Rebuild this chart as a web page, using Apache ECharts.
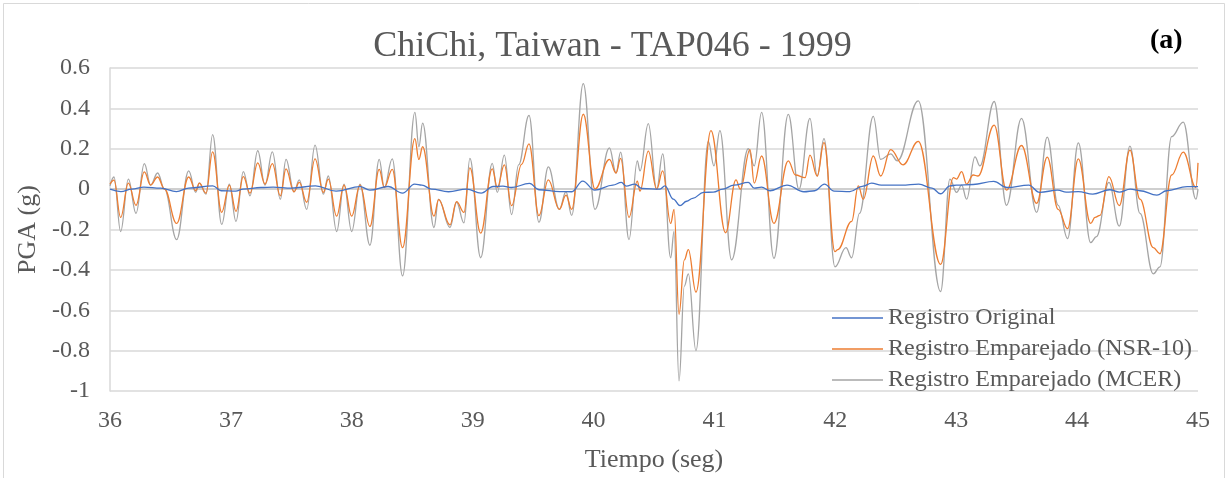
<!DOCTYPE html>
<html>
<head>
<meta charset="utf-8">
<script src="https://cdn.jsdelivr.net/npm/echarts@6/dist/echarts.min.js"></script>
<style>
    html, body {margin: 0; padding: 0; background: #fff;}
    #chart {width: 1225px; height: 478px;}
</style>
</head>
<body>
<div id="chart"></div>
<script>
// tiempo (seg) y PGA (g), un arreglo por serie
const tGray = [36.000, 36.033, 36.088, 36.152, 36.215, 36.284, 36.336, 36.394, 36.451, 36.551,
    36.651, 36.709, 36.739, 36.794, 36.849, 36.924, 36.987, 37.042, 37.103, 37.158,
    37.222, 37.282, 37.343, 37.409, 37.456, 37.522, 37.566, 37.627, 37.696, 37.765,
    37.806, 37.875, 37.936, 37.999, 38.068, 38.150, 38.227, 38.269, 38.335, 38.420,
    38.522, 38.555, 38.586, 38.680, 38.718, 38.812, 38.867, 38.928, 38.977, 39.066,
    39.162, 39.204, 39.262, 39.322, 39.380, 39.466, 39.548, 39.626, 39.717, 39.772,
    39.819, 39.915, 40.012, 40.131, 40.186, 40.224, 40.293, 40.362, 40.384, 40.453,
    40.522, 40.572, 40.638, 40.666, 40.707, 40.751, 40.784, 40.847, 40.949, 40.996,
    41.045, 41.142, 41.280, 41.329, 41.390, 41.492, 41.611, 41.699, 41.790, 41.850,
    41.906, 41.997, 42.088, 42.135, 42.200, 42.314, 42.375, 42.458, 42.513, 42.686,
    42.871, 42.948, 43.003, 43.045, 43.086, 43.155, 43.196, 43.314, 43.416, 43.540,
    43.665, 43.753, 43.843, 43.921, 44.010, 44.112, 44.160, 44.263, 44.349, 44.437,
    44.520, 44.630, 44.685, 44.782, 44.878, 44.983, 45.000];
const mcer = [0.016, 0.06, -0.21, 0.05, -0.12, 0.126, 0.02, 0.08, 0.0, -0.25,
    0.09, -0.016, 0.03, -0.025, 0.27, -0.175, 0.025, -0.16, 0.087, -0.033,
    0.19, 0.02, 0.185, -0.05, 0.147, -0.013, 0.046, -0.10, 0.218, -0.025,
    0.065, -0.21, 0.025, -0.21, 0.025, -0.278, 0.147, 0.008, 0.15, -0.43,
    0.38, 0.21, 0.327, -0.19, -0.05, -0.19, -0.065, -0.167, 0.152, -0.34,
    0.128, -0.016, 0.168, -0.126, 0.12, 0.365, -0.164, 0.11, -0.10, -0.013,
    -0.13, 0.523, -0.10, 0.204, 0.08, 0.183, -0.25, 0.14, 0.09, 0.324,
    0.0, 0.175, -0.34, -0.21, -0.95, -0.48, -0.42, -0.80, 0.237, 0.115,
    0.29, -0.35, 0.20, 0.115, 0.38, -0.343, 0.37, 0.0, 0.35, 0.065,
    0.25, -0.385, -0.29, -0.34, -0.12, 0.36, 0.147, 0.175, 0.14, 0.437,
    -0.507, 0.05, -0.016, 0.02, -0.05, 0.16, 0.115, 0.434, -0.08, 0.35,
    -0.115, 0.258, -0.08, -0.245, 0.229, -0.265, -0.235, 0.033, -0.183, 0.213,
    -0.12, -0.42, -0.385, 0.26, 0.332, -0.05, 0.0];

const tOrange = [36.000, 36.033, 36.088, 36.152, 36.215, 36.284, 36.336, 36.394, 36.451, 36.551,
    36.651, 36.709, 36.739, 36.794, 36.849, 36.924, 36.987, 37.042, 37.103, 37.158,
    37.222, 37.282, 37.343, 37.409, 37.456, 37.522, 37.566, 37.627, 37.696, 37.765,
    37.806, 37.875, 37.936, 37.999, 38.068, 38.150, 38.227, 38.269, 38.335, 38.420,
    38.522, 38.555, 38.586, 38.680, 38.718, 38.812, 38.867, 38.928, 38.977, 39.066,
    39.162, 39.204, 39.262, 39.322, 39.405, 39.466, 39.548, 39.626, 39.717, 39.772,
    39.819, 39.915, 40.012, 40.131, 40.186, 40.224, 40.293, 40.362, 40.384, 40.453,
    40.522, 40.572, 40.638, 40.666, 40.707, 40.751, 40.784, 40.847, 40.971, 41.092,
    41.178, 41.214, 41.294, 41.329, 41.390, 41.492, 41.611, 41.670, 41.750, 41.790,
    41.850, 41.906, 41.997, 42.020, 42.135, 42.190, 42.231, 42.314, 42.375, 42.458,
    42.560, 42.686, 42.871, 42.976, 43.003, 43.045, 43.086, 43.140, 43.180, 43.314,
    43.416, 43.540, 43.665, 43.753, 43.843, 43.921, 44.010, 44.112, 44.148, 44.189,
    44.263, 44.349, 44.437, 44.520, 44.630, 44.685, 44.782, 44.878, 44.983, 45.000];
const nsr10 = [0.025, 0.045, -0.14, 0.03, -0.08, 0.085, 0.02, 0.06, 0.0, -0.17,
    0.06, -0.008, 0.03, -0.02, 0.185, -0.115, 0.02, -0.11, 0.062, -0.02,
    0.13, 0.025, 0.126, -0.033, 0.10, -0.013, 0.033, -0.065, 0.15, -0.016,
    0.05, -0.134, 0.02, -0.134, 0.02, -0.185, 0.098, 0.008, 0.098, -0.29,
    0.25, 0.147, 0.21, -0.134, -0.052, -0.177, -0.062, -0.115, 0.105, -0.218,
    0.10, 0.008, 0.12, -0.082, 0.123, 0.224, -0.131, 0.046, -0.10, -0.03,
    -0.10, 0.371, 0.0, 0.147, 0.08, 0.152, -0.14, 0.04, -0.01, 0.188,
    0.0, 0.09, -0.17, -0.10, -0.62, -0.35, -0.30, -0.51, 0.29, -0.216,
    0.046, 0.0, 0.196, 0.03, 0.164, -0.17, 0.14, 0.07, 0.057, 0.168,
    0.065, 0.23, -0.31, -0.30, -0.16, 0.016, -0.05, 0.164, 0.065, 0.196,
    0.12, 0.237, -0.373, 0.057, 0.05, 0.087, 0.025, 0.07, 0.065, 0.317,
    -0.005, 0.216, -0.07, 0.159, -0.10, -0.196, 0.15, -0.17, -0.14, -0.13,
    0.062, -0.082, 0.193, -0.05, -0.29, -0.32, 0.07, 0.183, 0.008, 0.13];

const tBlue = [36.00, 36.09, 36.18, 36.28, 36.42, 36.55, 36.65, 36.85, 36.92, 37.04,
    37.10, 37.25, 37.35, 37.50, 37.70, 37.87, 38.07, 38.15, 38.30, 38.42,
    38.52, 38.58, 38.66, 38.80, 38.95, 39.07, 39.17, 39.25, 39.32, 39.47,
    39.55, 39.72, 39.82, 39.91, 40.01, 40.16, 40.23, 40.27, 40.34, 40.40,
    40.55, 40.59, 40.66, 40.715, 40.77, 40.82, 40.91, 40.99, 41.07, 41.16,
    41.28, 41.33, 41.39, 41.46, 41.60, 41.74, 41.83, 41.91, 41.99, 42.12,
    42.23, 42.30, 42.38, 42.55, 42.69, 42.80, 42.87, 42.95, 43.00, 43.14,
    43.31, 43.42, 43.60, 43.69, 43.84, 43.91, 44.01, 44.13, 44.27, 44.35,
    44.44, 44.52, 44.66, 44.74, 44.91, 45.00];
const original = [0.0, -0.012, 0.0, 0.01, 0.005, -0.012, 0.005, 0.016, -0.008, -0.01,
    0.0, 0.008, 0.01, 0.005, 0.016, -0.01, 0.012, -0.005, 0.013, -0.02,
    0.025, 0.02, 0.0, -0.013, 0.0, -0.02, 0.013, 0.015, 0.008, 0.028,
    -0.003, -0.012, -0.013, 0.04, -0.005, 0.02, 0.033, 0.015, 0.025, 0.003,
    0.0, 0.016, -0.05, -0.082, -0.06, -0.046, -0.016, -0.015, 0.0, 0.02,
    0.033, 0.005, 0.01, -0.008, 0.02, -0.013, -0.008, 0.025, -0.01, -0.012,
    0.015, 0.03, 0.02, 0.02, 0.025, 0.005, -0.023, 0.016, 0.02, 0.023,
    0.038, 0.008, 0.02, -0.016, -0.005, -0.015, -0.012, -0.025, -0.003, -0.015,
    0.0, -0.008, -0.03, -0.008, 0.012, 0.012];

const seriesNames = ['Registro Original', 'Registro Emparejado (NSR-10)', 'Registro Emparejado (MCER)'];
const seriesColors = ['#4472C4', '#ED7D31', '#A5A5A5'];

const pairs = (xs, ys) => xs.map((x, i) => [x, ys[i]]);

const font = 'Liberation Serif, Times New Roman, serif';
const textColor = '#595959';

const myChart = echarts.init(document.getElementById('chart'));

// la linea del cero va un poco mas oscura, como el eje horizontal de Excel
const gridColors = ['#d9d9d9', '#d9d9d9', '#d9d9d9', '#d9d9d9', '#d9d9d9', '#bfbfbf', '#d9d9d9', '#d9d9d9', '#d9d9d9'];

const option = {
    animation: false,
    backgroundColor: '#fff',
    title: {
        text: 'ChiChi, Taiwan - TAP046 - 1999',
        left: 'center',
        top: 24,
        textStyle: {fontFamily: font, fontSize: 36, fontWeight: 'normal', color: textColor}
    },
    graphic: [
        {
            type: 'rect', left: 1, top: 1, silent: true,
            shape: {width: 1221, height: 490},
            style: {fill: 'none', stroke: '#d9d9d9', lineWidth: 1}
        },
        {
            type: 'text', left: 1150, top: 27,
            style: {text: '(a)', font: 'bold 28px ' + font, fill: '#000'}
        }
    ],
    legend: {
        orient: 'vertical',
        left: 832,
        top: 306,
        padding: 0,
        icon: 'rect',
        itemWidth: 51,
        itemHeight: 1.5,
        itemGap: 7,
        data: seriesNames.map((name, i) => ({name: name, itemStyle: {color: seriesColors[i]}})),
        textStyle: {fontFamily: font, fontSize: 24, color: textColor, lineHeight: 24}
    },
    grid: {left: 110, right: 27, top: 68, bottom: 85},
    xAxis: {
        type: 'value',
        min: 36,
        max: 45,
        interval: 1,
        name: 'Tiempo (seg)',
        nameLocation: 'middle',
        nameGap: 56,
        nameTextStyle: {fontFamily: font, fontSize: 26, color: textColor},
        axisLine: {show: false},
        axisTick: {show: false},
        splitLine: {show: false},
        axisLabel: {fontFamily: font, fontSize: 24, color: textColor, margin: 18}
    },
    yAxis: {
        type: 'value',
        min: -1,
        max: 0.6,
        interval: 0.2,
        name: 'PGA (g)',
        nameLocation: 'middle',
        nameGap: 65,
        nameTextStyle: {fontFamily: font, fontSize: 26, color: textColor},
        axisLine: {show: true, lineStyle: {color: '#d9d9d9', width: 1.5}},
        axisTick: {show: false},
        splitLine: {lineStyle: {color: gridColors, width: 1.5}},
        axisLabel: {
            fontFamily: font, fontSize: 24, color: textColor, margin: 20,
            formatter: v => String(Math.round(v * 10) / 10)
        }
    },
    series: [
        {
            name: seriesNames[2], type: 'line', symbol: 'none',
            smooth: 0.4, smoothMonotone: 'x',
            data: pairs(tGray, mcer),
            lineStyle: {color: seriesColors[2], width: 1.3},
            itemStyle: {color: seriesColors[2]}
        },
        {
            name: seriesNames[1], type: 'line', symbol: 'none',
            smooth: 0.4, smoothMonotone: 'x',
            data: pairs(tOrange, nsr10),
            lineStyle: {color: seriesColors[1], width: 1.3},
            itemStyle: {color: seriesColors[1]}
        },
        {
            name: seriesNames[0], type: 'line', symbol: 'none',
            smooth: 0.4, smoothMonotone: 'x',
            data: pairs(tBlue, original),
            lineStyle: {color: seriesColors[0], width: 1.3},
            itemStyle: {color: seriesColors[0]}
        }
    ]
};

option && myChart.setOption(option);
</script>
</body>
</html>
